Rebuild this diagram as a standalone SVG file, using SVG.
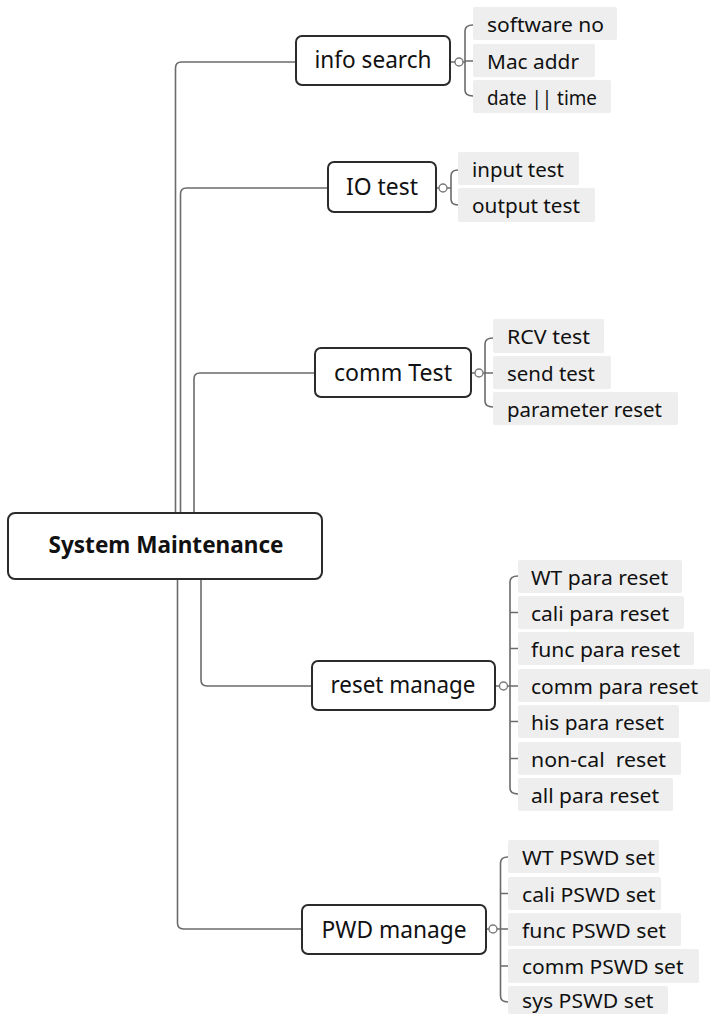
<svg xmlns="http://www.w3.org/2000/svg" width="711" height="1014" viewBox="0 0 711 1014">
<style>
.bg{fill:#ffffff}
.main{fill:#ffffff;stroke:#2b2b2b;stroke-width:2}
.sub{fill:#eeeeee}
.t{font-family:"Noto Sans","Open Sans","Liberation Sans",sans-serif;fill:#111111}
.tm{font-size:23px;text-anchor:middle}
.tr{font-size:23px;font-weight:bold;text-anchor:middle}
.ts{font-size:19.5px}
.ln{fill:none;stroke:#6b6b6b;stroke-width:1.6}
.cc{fill:#ffffff;stroke:#7a7a7a;stroke-width:1.4}
</style>
<rect class="bg" x="0" y="0" width="711" height="1014"/>
<g id="connectors">
<path class="ln" d="M175.5,513 V68 Q175.5,62 181.5,62 H296"/>
<path class="ln" d="M180.5,513 V194 Q180.5,188 186.5,188 H328"/>
<path class="ln" d="M194,513 V379 Q194,373 200,373 H315"/>
<path class="ln" d="M201,579 V680 Q201,686 207,686 H312"/>
<path class="ln" d="M177.5,579 V923 Q177.5,929 183.5,929 H302"/>
<path class="ln" d="M450,62 H465 M473,25 Q465,25 465,31 V90 Q465,96 473,96 M465,61 H473"/>
<circle class="cc" cx="459" cy="62" r="4"/>
<path class="ln" d="M436,188 H451 M458,170 Q451,170 451,176 V199 Q451,205 458,205"/>
<circle class="cc" cx="443" cy="188" r="4"/>
<path class="ln" d="M471,373 H493 M493,338 Q485,338 485,344 V401 Q485,407 493,407"/>
<circle class="cc" cx="479" cy="373" r="4"/>
<path class="ln" d="M495,686 H518 M518,576 Q510,576 510,582 V788 Q510,794 518,794 M510,612.5 H518 M510,648.5 H518 M510,721.5 H518 M510,758.5 H518"/>
<circle class="cc" cx="503.5" cy="686" r="4"/>
<path class="ln" d="M486,929 H508 M508,857 Q500.5,857 500.5,863 V996 Q500.5,1002 508,1002 M500.5,893.5 H508 M500.5,966 H508"/>
<circle class="cc" cx="493" cy="929" r="4"/>
</g>
<g id="root">
<rect class="main" x="8" y="513" width="314" height="66" rx="7"/>
<text class="t tr" x="166" y="553" textLength="235" lengthAdjust="spacingAndGlyphs">System Maintenance</text>
</g>
<g id="info-search">
<rect class="main" x="296" y="36" width="154" height="49" rx="6"/>
<text class="t tm" x="373" y="68" textLength="117" lengthAdjust="spacingAndGlyphs">info search</text>
</g>
<g id="software-no"><rect class="sub" x="473" y="7" width="144" height="33" rx="2"/><text class="t ts" x="487" y="31.5" textLength="117" lengthAdjust="spacingAndGlyphs">software no</text></g>
<g id="mac-addr"><rect class="sub" x="473" y="44" width="122" height="33" rx="2"/><text class="t ts" x="487" y="68.5" textLength="92" lengthAdjust="spacingAndGlyphs">Mac addr</text></g>
<g id="date-time"><rect class="sub" x="473" y="80" width="138" height="33" rx="2"/><text class="t ts" x="487" y="104.5" textLength="110" lengthAdjust="spacingAndGlyphs">date || time</text></g>
<g id="io-test">
<rect class="main" x="328" y="162" width="108" height="50" rx="6"/>
<text class="t tm" x="382" y="195" textLength="72" lengthAdjust="spacingAndGlyphs">IO test</text>
</g>
<g id="input-test"><rect class="sub" x="458" y="152" width="121" height="33" rx="2"/><text class="t ts" x="472" y="176.5" textLength="92" lengthAdjust="spacingAndGlyphs">input test</text></g>
<g id="output-test"><rect class="sub" x="458" y="188" width="137" height="34" rx="2"/><text class="t ts" x="472" y="212.5" textLength="108" lengthAdjust="spacingAndGlyphs">output test</text></g>
<g id="comm-test">
<rect class="main" x="315" y="348" width="156" height="49" rx="6"/>
<text class="t tm" x="393" y="381" textLength="118" lengthAdjust="spacingAndGlyphs">comm Test</text>
</g>
<g id="rcv-test"><rect class="sub" x="493" y="319" width="111" height="34" rx="2"/><text class="t ts" x="507" y="343.5" textLength="83" lengthAdjust="spacingAndGlyphs">RCV test</text></g>
<g id="send-test"><rect class="sub" x="493" y="356" width="118" height="33" rx="2"/><text class="t ts" x="507" y="380.5" textLength="88" lengthAdjust="spacingAndGlyphs">send test</text></g>
<g id="parameter-reset"><rect class="sub" x="493" y="392" width="185" height="33" rx="2"/><text class="t ts" x="507" y="416.5" textLength="155" lengthAdjust="spacingAndGlyphs">parameter reset</text></g>
<g id="reset-manage">
<rect class="main" x="312" y="661" width="183" height="49" rx="6"/>
<text class="t tm" x="403" y="693" textLength="145" lengthAdjust="spacingAndGlyphs">reset manage</text>
</g>
<g id="wt-para-reset"><rect class="sub" x="518" y="560" width="164" height="33" rx="2"/><text class="t ts" x="531" y="584.5" textLength="137" lengthAdjust="spacingAndGlyphs">WT para reset</text></g>
<g id="cali-para-reset"><rect class="sub" x="518" y="596" width="166" height="33" rx="2"/><text class="t ts" x="531" y="620.5" textLength="138" lengthAdjust="spacingAndGlyphs">cali para reset</text></g>
<g id="func-para-reset"><rect class="sub" x="518" y="632" width="176" height="33" rx="2"/><text class="t ts" x="531" y="656.5" textLength="149" lengthAdjust="spacingAndGlyphs">func para reset</text></g>
<g id="comm-para-reset"><rect class="sub" x="518" y="669" width="192" height="33" rx="2"/><text class="t ts" x="531" y="693.5" textLength="167" lengthAdjust="spacingAndGlyphs">comm para reset</text></g>
<g id="his-para-reset"><rect class="sub" x="518" y="705" width="161" height="33" rx="2"/><text class="t ts" x="531" y="729.5" textLength="133" lengthAdjust="spacingAndGlyphs">his para reset</text></g>
<g id="non-cal-reset"><rect class="sub" x="518" y="742" width="163" height="33" rx="2"/><text class="t ts" x="531" y="766.5" textLength="135" lengthAdjust="spacingAndGlyphs" xml:space="preserve" style="white-space:pre">non-cal  reset</text></g>
<g id="all-para-reset"><rect class="sub" x="518" y="778" width="155" height="33" rx="2"/><text class="t ts" x="531" y="802.5" textLength="128" lengthAdjust="spacingAndGlyphs">all para reset</text></g>
<g id="pwd-manage">
<rect class="main" x="302" y="905" width="184" height="49" rx="6"/>
<text class="t tm" x="394" y="938" textLength="145" lengthAdjust="spacingAndGlyphs">PWD manage</text>
</g>
<g id="wt-pswd-set"><rect class="sub" x="508" y="840" width="151" height="33" rx="2"/><text class="t ts" x="522" y="864.5" textLength="133" lengthAdjust="spacingAndGlyphs">WT PSWD set</text></g>
<g id="cali-pswd-set"><rect class="sub" x="508" y="877" width="153" height="33" rx="2"/><text class="t ts" x="522" y="901.5" textLength="133.5" lengthAdjust="spacingAndGlyphs">cali PSWD set</text></g>
<g id="func-pswd-set"><rect class="sub" x="508" y="913" width="173" height="33" rx="2"/><text class="t ts" x="522" y="937.5" textLength="144" lengthAdjust="spacingAndGlyphs">func PSWD set</text></g>
<g id="comm-pswd-set"><rect class="sub" x="508" y="949" width="191" height="34" rx="2"/><text class="t ts" x="522" y="973.5" textLength="161.5" lengthAdjust="spacingAndGlyphs">comm PSWD set</text></g>
<g id="sys-pswd-set"><rect class="sub" x="508" y="986" width="160" height="28" rx="2"/><text class="t ts" x="522" y="1007.5" textLength="131.5" lengthAdjust="spacingAndGlyphs">sys PSWD set</text></g>
</svg>
